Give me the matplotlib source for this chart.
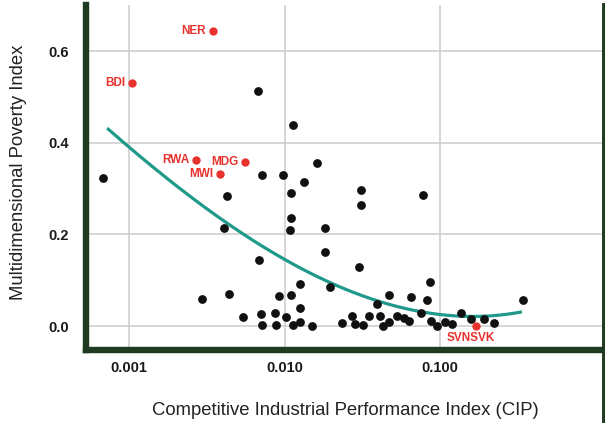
import numpy as np
import matplotlib
matplotlib.use("Agg")
import matplotlib.pyplot as plt
from matplotlib.lines import Line2D

plt.rcParams['font.family'] = ['Liberation Sans', 'DejaVu Sans']

# CIP (x) and MPI (y) for the unlabelled countries
cip = [0.000681, 0.00676, 0.01135, 0.00716, 0.00977, 0.01333, 0.01617, 0.00427,
       0.01102, 0.0310, 0.0310, 0.01102, 0.01083, 0.01820, 0.00408, 0.00686,
       0.01820, 0.0301, 0.01259, 0.01965, 0.00294, 0.00440, 0.00923, 0.01102,
       0.01259, 0.00541, 0.00706, 0.00869, 0.01023, 0.00716, 0.00881, 0.01135,
       0.01259, 0.01503, 0.02344, 0.02716, 0.02838, 0.0320, 0.0349, 0.0411,
       0.0430, 0.0470, 0.0528, 0.0586, 0.0632, 0.0755, 0.0875, 0.0957,
       0.1076, 0.1194, 0.1365, 0.1581, 0.1919, 0.2223, 0.3420, 0.0778,
       0.0863, 0.0470, 0.0652, 0.0824, 0.0394]
mpi = [0.323, 0.513, 0.439, 0.330, 0.330, 0.314, 0.356, 0.284,
       0.290, 0.297, 0.264, 0.236, 0.210, 0.214, 0.214, 0.144,
       0.162, 0.129, 0.092, 0.085, 0.059, 0.070, 0.066, 0.068,
       0.039, 0.020, 0.026, 0.028, 0.020, 0.002, 0.002, 0.002,
       0.009, 0.000, 0.007, 0.022, 0.004, 0.002, 0.022, 0.022,
       0.000, 0.009, 0.022, 0.017, 0.011, 0.028, 0.011, 0.000,
       0.009, 0.004, 0.028, 0.015, 0.015, 0.007, 0.057, 0.286,
       0.096, 0.068, 0.063, 0.057, 0.048]

# highlighted countries
hl_codes = ['NER', 'BDI', 'RWA', 'MDG', 'MWI', 'SVNSVK']
hl_cip = [0.00347, 0.00105, 0.00270, 0.00557, 0.00385, 0.1706]
hl_mpi = [0.644, 0.531, 0.362, 0.358, 0.332, 0.000]

# trend line, sampled along its length
trend_cip = [0.000723, 0.001, 0.004335, 0.01259, 0.03936, 0.100, 0.156, 0.2099, 0.3365]
trend_mpi = [0.430, 0.395, 0.216, 0.133, 0.057, 0.023, 0.018, 0.022, 0.033]

x_ticks = [0.001, 0.01, 0.1]
x_ticklabels = ['0.001', '0.010', '0.100']
y_ticks = [0.0, 0.2, 0.4, 0.6]

dark_green = '#1e3a20'
red = '#e8322e'
teal = '#1f9a8a'

fig = plt.figure(figsize=(6.05, 4.23), dpi=100)
ax = fig.add_axes([86 / 605, 1 - 350 / 423, (603.5 - 86) / 605, 345 / 423])

# smooth cubic (in log CIP) through the trend samples
tx = np.log10(trend_cip)
coef = np.polyfit(tx, trend_mpi, 3)
lx = np.linspace(tx.min(), tx.max(), 200)
ax.plot(10 ** lx, np.polyval(coef, lx), color=teal, lw=2.3, zorder=2,
        solid_capstyle='butt')

ax.scatter(cip, mpi, s=40, color='#111111', zorder=3, linewidths=0)
ax.scatter(hl_cip, hl_mpi, s=36, color=red, zorder=4, linewidths=0)
for code, x, y in zip(hl_codes, hl_cip, hl_mpi):
    if code == 'SVNSVK':
        ax.annotate(code, (x, y), xytext=(-4, -8.5), textcoords='offset points',
                    ha='center', va='center', color=red, fontsize=8.5,
                    fontweight='bold')
    else:
        ax.annotate(code, (x, y), xytext=(-5, 0), textcoords='offset points',
                    ha='right', va='center', color=red, fontsize=8.5,
                    fontweight='bold')

ax.set_xscale('log')
ax.set_xlim(10 ** -3.2765, 10 ** 0.0514)
ax.set_ylim(-0.0524, 0.701)
ax.set_xticks(x_ticks)
ax.set_xticklabels(x_ticklabels)
ax.xaxis.set_minor_locator(matplotlib.ticker.NullLocator())
ax.set_yticks(y_ticks)
ax.set_yticklabels(['%.1f' % v for v in y_ticks])
ax.tick_params(length=0, labelsize=10.5, labelcolor='#1a1a1a')
ax.tick_params(axis='x', pad=8)
ax.tick_params(axis='y', pad=12)
for lab in ax.get_xticklabels() + ax.get_yticklabels():
    lab.set_fontweight('bold')

ax.grid(True, color='#cccccc', lw=1.1)
ax.set_axisbelow(True)

for side in ['top', 'right']:
    ax.spines[side].set_visible(False)
for side in ['left', 'bottom']:
    ax.spines[side].set_color(dark_green)
    ax.spines[side].set_linewidth(4.6)

# right frame line runs down to the bottom edge
fig.add_artist(Line2D([603.5 / 605, 603.5 / 605], [0, 1 - 5 / 423],
                      transform=fig.transFigure, color=dark_green, lw=2.8))

fig.text(19 / 605, 1 - 172 / 423, 'Multidimensional Poverty Index',
         rotation=90, ha='center', va='center', fontsize=13.3, color='#222222')
fig.text(345 / 605, 1 - 410 / 423,
         'Competitive Industrial Performance Index (CIP)',
         ha='center', va='center', fontsize=13.3, color='#222222')

fig.savefig('out.png', dpi=100)
